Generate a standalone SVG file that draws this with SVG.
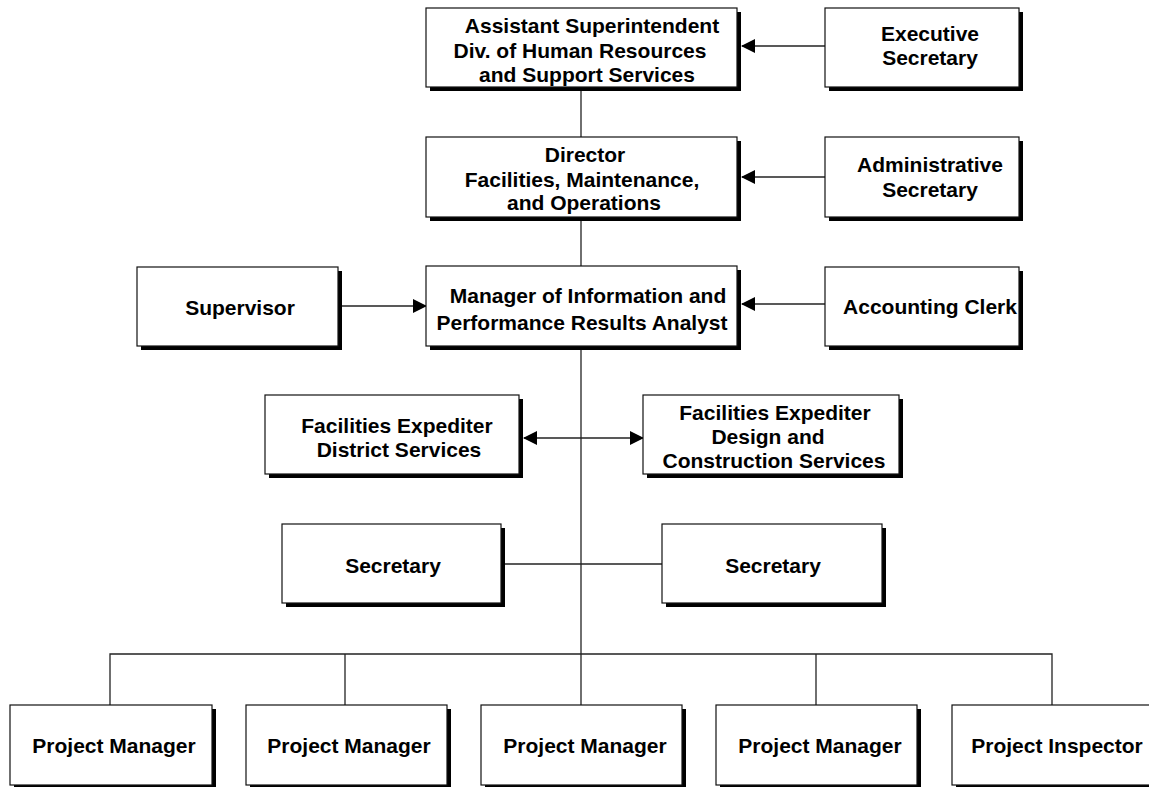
<svg xmlns="http://www.w3.org/2000/svg" width="1149" height="787" viewBox="0 0 1149 787">
  <style>
    .box { fill: #fff; stroke: #111; stroke-width: 1.2; }
    .shadow { fill: #000; }
    .lbl { font-family: "Liberation Sans", Arial, sans-serif; font-weight: bold; font-size: 21px; fill: #000; text-anchor: middle; }
    .wire { fill: none; stroke: #222; stroke-width: 1.3; }
  </style>
  <defs>
    <marker id="head" viewBox="0 0 14 14" refX="13" refY="7" markerWidth="14" markerHeight="14" markerUnits="userSpaceOnUse" orient="auto-start-reverse">
      <path d="M0,0 L14,7 L0,14 Z" fill="#000"/>
    </marker>
  </defs>

  <!-- connectors -->
  <g id="connectors">
    <line class="wire" x1="581" y1="91" x2="581" y2="137"/>
    <line class="wire" x1="581" y1="221" x2="581" y2="266"/>
    <line class="wire" x1="581" y1="350" x2="581" y2="705"/>
    <polyline class="wire" points="110,705 110,654 1052,654 1052,705"/>
    <line class="wire" x1="345" y1="654" x2="345" y2="705"/>
    <line class="wire" x1="816" y1="654" x2="816" y2="705"/>
    <line class="wire" x1="825" y1="46" x2="742" y2="46" marker-end="url(#head)"/>
    <line class="wire" x1="825" y1="177" x2="742" y2="177" marker-end="url(#head)"/>
    <line class="wire" x1="825" y1="304" x2="742" y2="304" marker-end="url(#head)"/>
    <line class="wire" x1="342" y1="306" x2="426" y2="306" marker-end="url(#head)"/>
    <line class="wire" x1="524" y1="438" x2="643" y2="438" marker-start="url(#head)" marker-end="url(#head)"/>
    <line class="wire" x1="505" y1="564" x2="662" y2="564"/>
  </g>

  <g id="asst-superintendent">
    <rect class="shadow" x="430" y="12" width="311" height="79"/>
    <rect class="box" x="426" y="8" width="311" height="79"/>
    <text class="lbl" x="592" y="33">Assistant Superintendent</text>
    <text class="lbl" x="580" y="58">Div. of Human Resources</text>
    <text class="lbl" x="587" y="82">and Support Services</text>
  </g>

  <g id="executive-secretary">
    <rect class="shadow" x="829" y="12" width="194" height="79"/>
    <rect class="box" x="825" y="8" width="194" height="79"/>
    <text class="lbl" x="930" y="41">Executive</text>
    <text class="lbl" x="930" y="65">Secretary</text>
  </g>

  <g id="director">
    <rect class="shadow" x="430" y="141" width="311" height="80"/>
    <rect class="box" x="426" y="137" width="311" height="80"/>
    <text class="lbl" x="585" y="162">Director</text>
    <text class="lbl" x="582" y="187">Facilities, Maintenance,</text>
    <text class="lbl" x="584" y="210">and Operations</text>
  </g>

  <g id="administrative-secretary">
    <rect class="shadow" x="829" y="141" width="194" height="80"/>
    <rect class="box" x="825" y="137" width="194" height="80"/>
    <text class="lbl" x="930" y="172">Administrative</text>
    <text class="lbl" x="930" y="197">Secretary</text>
  </g>

  <g id="manager">
    <rect class="shadow" x="430" y="270" width="311" height="80"/>
    <rect class="box" x="426" y="266" width="311" height="80"/>
    <text class="lbl" x="588" y="303">Manager of Information and</text>
    <text class="lbl" x="582" y="330">Performance Results Analyst</text>
  </g>

  <g id="supervisor">
    <rect class="shadow" x="141" y="271" width="201" height="79"/>
    <rect class="box" x="137" y="267" width="201" height="79"/>
    <text class="lbl" x="240" y="315">Supervisor</text>
  </g>

  <g id="accounting-clerk">
    <rect class="shadow" x="829" y="271" width="194" height="79"/>
    <rect class="box" x="825" y="267" width="194" height="79"/>
    <text class="lbl" x="930" y="314">Accounting Clerk</text>
  </g>

  <g id="expediter-district">
    <rect class="shadow" x="269" y="399" width="254" height="79"/>
    <rect class="box" x="265" y="395" width="254" height="79"/>
    <text class="lbl" x="397" y="433">Facilities Expediter</text>
    <text class="lbl" x="399" y="457">District Services</text>
  </g>

  <g id="expediter-design">
    <rect class="shadow" x="647" y="399" width="256" height="79"/>
    <rect class="box" x="643" y="395" width="256" height="79"/>
    <text class="lbl" x="775" y="420">Facilities Expediter</text>
    <text class="lbl" x="768" y="444">Design and</text>
    <text class="lbl" x="774" y="468">Construction Services</text>
  </g>

  <g id="secretary-left">
    <rect class="shadow" x="286" y="528" width="219" height="79"/>
    <rect class="box" x="282" y="524" width="219" height="79"/>
    <text class="lbl" x="393" y="573">Secretary</text>
  </g>

  <g id="secretary-right">
    <rect class="shadow" x="666" y="528" width="220" height="79"/>
    <rect class="box" x="662" y="524" width="220" height="79"/>
    <text class="lbl" x="773" y="573">Secretary</text>
  </g>

  <g id="project-manager-1">
    <rect class="shadow" x="14" y="709" width="202" height="80"/>
    <rect class="box" x="10" y="705" width="202" height="80"/>
    <text class="lbl" x="114" y="753">Project Manager</text>
  </g>

  <g id="project-manager-2">
    <rect class="shadow" x="250" y="709" width="201" height="80"/>
    <rect class="box" x="246" y="705" width="201" height="80"/>
    <text class="lbl" x="349" y="753">Project Manager</text>
  </g>

  <g id="project-manager-3">
    <rect class="shadow" x="485" y="709" width="201" height="80"/>
    <rect class="box" x="481" y="705" width="201" height="80"/>
    <text class="lbl" x="585" y="753">Project Manager</text>
  </g>

  <g id="project-manager-4">
    <rect class="shadow" x="720" y="709" width="201" height="80"/>
    <rect class="box" x="716" y="705" width="201" height="80"/>
    <text class="lbl" x="820" y="753">Project Manager</text>
  </g>

  <g id="project-inspector">
    <rect class="shadow" x="956" y="709" width="200" height="80"/>
    <rect class="box" x="952" y="705" width="200" height="80"/>
    <text class="lbl" x="1057" y="753">Project Inspector</text>
  </g>
</svg>
